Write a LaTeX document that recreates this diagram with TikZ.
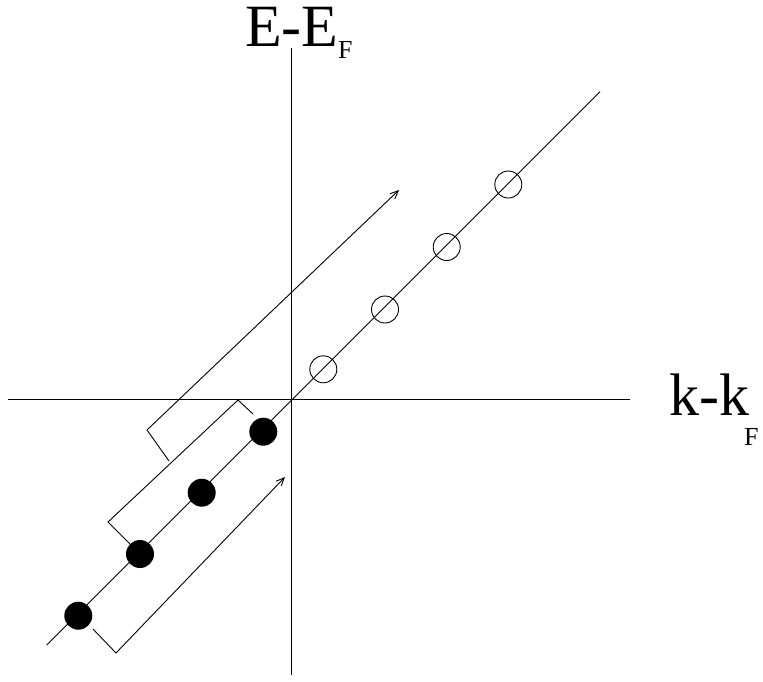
\documentclass[tikz,border=0pt]{standalone}
\usepackage{fontspec}
\setmainfont{Liberation Serif}
\usetikzlibrary{arrows.meta}
\tikzset{
  ln/.style={line width=0.9pt, line cap=butt},
  arr/.style={ln, -{Straight Barb[length=8pt,width=7pt,line width=0.9pt]}},
  full/.style={circle, fill=black, minimum size=28pt, inner sep=0pt},
  hole/.style={circle, draw=black, line width=0.9pt, minimum size=27pt, inner sep=0pt},
  lab/.style={anchor=base west, inner sep=0pt, font=\fontsize{60}{60}\selectfont},
  sub/.style={anchor=base west, inner sep=0pt, font=\fontsize{26}{26}\selectfont},
}
\begin{document}
\begin{tikzpicture}[x=1pt,y=-1pt]
\useasboundingbox (0,0) rectangle (763,681);
% axes
\coordinate (xl) at (8,399);
\coordinate (xr) at (630,399);
\coordinate (yt) at (291.5,48);
\coordinate (yb) at (291.5,675);
\draw[ln] (xl) -- (xr);
\draw[ln] (yt) -- (yb);
% dispersion line
\coordinate (dl) at (46.7,645);
\coordinate (dr) at (600,91.7);
\draw[ln] (dl) -- (dr);
% occupied states
\node[full] (f1) at (263.3,431.7) {};
\node[full] (f2) at (201.7,492.7) {};
\node[full] (f3) at (140,554) {};
\node[full] (f4) at (78.3,615.7) {};
% empty states
\node[hole] (h1) at (323.3,369.3) {};
\node[hole] (h2) at (385,309.5) {};
\node[hole] (h3) at (446.7,247) {};
\node[hole] (h4) at (508.3,184.5) {};
% upper bracket with arrow
\coordinate (b1a) at (169,461);
\coordinate (b1b) at (147,430);
\coordinate (b1c) at (399,190);
\draw[arr] (b1a) -- (b1b) -- (b1c);
% middle bracket
\coordinate (b2a) at (253,414);
\coordinate (b2b) at (238,400);
\coordinate (b2c) at (108,522);
\coordinate (b2d) at (130,544);
\draw[ln] (b2a) -- (b2b) -- (b2c) -- (b2d);
% lower bracket with arrow
\coordinate (b3a) at (93,629);
\coordinate (b3b) at (116,653);
\coordinate (b3c) at (285,477);
\draw[arr] (b3a) -- (b3b) -- (b3c);
% labels
\node[lab] (ylab) at (245,46) {E-E};
\node[sub] (ysub) at (338,58) {F};
\node[lab] (xlab) at (669,415) {k-k};
\node[sub] (xsub) at (744,445) {F};
\end{tikzpicture}
\end{document}
